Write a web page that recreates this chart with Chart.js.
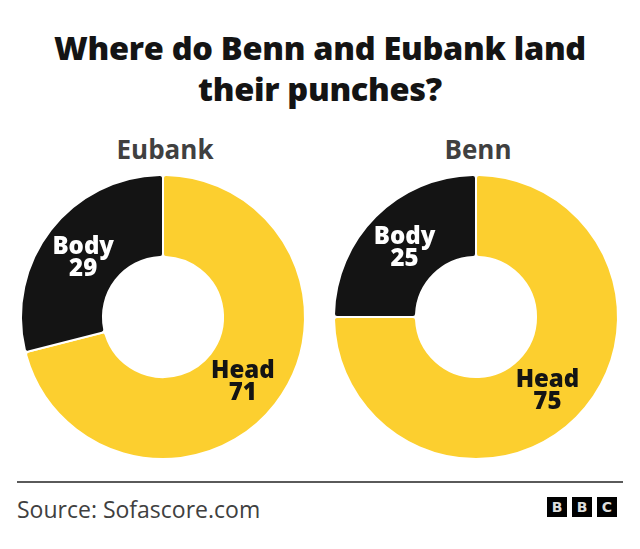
<!DOCTYPE html>
<html>
<head>
<meta charset="utf-8">
<script src="https://cdn.jsdelivr.net/npm/chart.js@4/dist/chart.umd.min.js"></script>
<style>
  html, body { margin:0; padding:0; background:#fff; }
  body { width:640px; height:549px; position:relative; overflow:hidden; font-family: "Open Sans", Lato, sans-serif; }
  .title { position:absolute; left:0; width:640px; top:27px; text-align:center; font-weight:800; font-size:32.5px; line-height:41px; color:#141414; letter-spacing:-0.3px; }
  .sub { position:absolute; top:131px; width:200px; text-align:center; font-weight:700; font-size:26px; color:#404040; }
  canvas { position:absolute; }
  .rule { position:absolute; left:17px; width:606px; top:481px; height:0; border-top:2px solid #5a5a5a; }
  .source { position:absolute; left:17px; top:493px; font-size:23px; color:#404040; }
  .logo { position:absolute; top:497px; width:20px; height:20px; background:#000; color:#ddd; font-weight:700; font-size:14px; line-height:20px; text-align:center; font-family: "DejaVu Sans", sans-serif; }
</style>
</head>
<body>
<div class="title">Where do Benn and Eubank land<br>their punches?</div>
<div class="sub" id="sub0" style="left:65px">Eubank</div>
<div class="sub" id="sub1" style="left:378px">Benn</div>
<canvas id="c0" width="300" height="300" style="left:13px;top:167px;width:300px;height:300px"></canvas>
<canvas id="c1" width="300" height="300" style="left:326px;top:167px;width:300px;height:300px"></canvas>
<div class="rule"></div>
<div class="source">Source: Sofascore.com</div>
<div class="logo" style="left:547px">B</div>
<div class="logo" style="left:572px">B</div>
<div class="logo" style="left:597px">C</div>
<script>
const categories = ["Head", "Body"];
const fighters = ["Eubank", "Benn"];
const eubankValues = [71, 29];
const bennValues = [75, 25];
const seriesValues = [eubankValues, bennValues];
const sliceColors = ["#fccf2f", "#141414"];
const labelColors = ["#141414", "#ffffff"];

const sliceLabels = {
  id: "sliceLabels",
  afterDatasetsDraw(chart) {
    const ctx = chart.ctx;
    const meta = chart.getDatasetMeta(0);
    const ds = chart.data.datasets[0];
    ctx.save();
    ctx.textAlign = "center";
    ctx.textBaseline = "middle";
    ctx.font = "800 24px 'Open Sans', Lato, sans-serif";
    meta.data.forEach((arc, i) => {
      const p = arc.tooltipPosition();
      ctx.fillStyle = labelColors[i];
      ctx.fillText(chart.data.labels[i], p.x, p.y - 8);
      ctx.fillText(String(ds.data[i]), p.x, p.y + 14);
    });
    ctx.restore();
  }
};

seriesValues.forEach((vals, k) => {
  new Chart(document.getElementById("c" + k), {
    type: "doughnut",
    data: {
      labels: categories,
      datasets: [{
        label: fighters[k],
        data: vals,
        backgroundColor: sliceColors,
        borderColor: "#ffffff",
        borderWidth: 2,
        borderRadius: 3,
        hoverOffset: 0
      }]
    },
    options: {
      responsive: false,
      animation: false,
      radius: 142,
      cutout: 63,
      layout: { padding: 0 },
      plugins: { legend: { display: false }, tooltip: { enabled: false }, title: { display: false } },
      events: []
    },
    plugins: [sliceLabels]
  });
});
</script>
</body>
</html>
